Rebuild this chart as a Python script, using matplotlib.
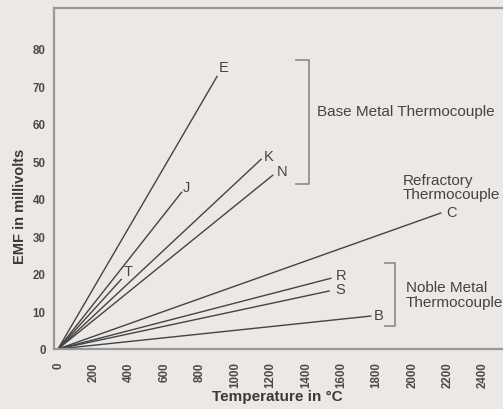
import matplotlib
matplotlib.use("Agg")
import matplotlib.pyplot as plt

# thermocouple types: end temperature (deg C) and EMF (mV), lines start at 0,0
types = ['E', 'J', 'T', 'K', 'N', 'C', 'R', 'S', 'B']
t_max = [900, 700, 360, 1150, 1215, 2165, 1545, 1535, 1770]
emf_max = [72.8, 41.9, 18.7, 50.7, 46.4, 36.3, 18.9, 15.5, 8.8]
# label offsets in pixels from the line end
lab_dx = [1, 1, 2, 2, 4, 5, 4, 6, 2]
lab_dy = [9, 5, 8, 3, 4, 1, 3, 2, 1]

xticks = list(range(0, 2401, 200))
yticks = list(range(0, 81, 10))

bg = '#ebe8e6'
ink = '#444444'
plt.rcParams['font.family'] = ['Liberation Sans', 'DejaVu Sans']

fig = plt.figure(figsize=(5.03, 4.10), dpi=100, facecolor=bg)
ax = fig.add_axes([54 / 503, 60 / 410, 449 / 503, 341 / 410], facecolor=bg)

for name, t, e, dx, dy in zip(types, t_max, emf_max, lab_dx, lab_dy):
    ax.plot([0, t], [0, e], color=ink, lw=1.0, solid_capstyle='butt')
    ax.annotate(name, (t, e), xytext=(dx, dy), textcoords='offset pixels',
                ha='left', va='center', fontsize=10.5, color=ink)

# group brackets
br = '#8a8a8a'
ax.plot([1344, 1417, 1417, 1344], [77.1, 77.1, 44.0, 44.0], color=br, lw=1.2)
ax.plot([1847, 1903, 1903, 1847], [22.9, 22.9, 6.1, 6.1], color=br, lw=1.2)

ax.text(1463, 63.5, 'Base Metal Thermocouple', fontsize=11, color=ink,
        ha='left', va='center')
ax.text(1948, 43.3, 'Refractory\nThermocouple', fontsize=11, color=ink,
        ha='left', va='center', linespacing=1.0)
ax.text(1965, 14.5, 'Noble Metal\nThermocouple', fontsize=11, color=ink,
        ha='left', va='center', linespacing=1.05)

ax.set_xlim(-22.6, 2513)
ax.set_ylim(0, 90.9)
ax.set_xticks(xticks)
ax.set_yticks(yticks)
ax.set_xticklabels([str(v) for v in xticks], rotation=90, fontsize=8.3,
                   fontweight='bold', color='#4a4a4a')
ax.set_yticklabels([str(v) for v in yticks], fontsize=8.3,
                   fontweight='bold', color='#4a4a4a')
ax.tick_params(axis='both', length=0)
ax.tick_params(axis='x', pad=9)
ax.tick_params(axis='y', pad=6)

for side in ['left', 'top', 'bottom']:
    ax.spines[side].set_color('#999999')
    ax.spines[side].set_linewidth(1.6)
ax.spines['right'].set_visible(False)

ax.set_xlabel('Temperature in °C', fontsize=11, fontweight='bold', color='#3a3a3a')
ax.set_ylabel('EMF in millivolts', fontsize=10.5, fontweight='bold', color='#3a3a3a')
ax.xaxis.set_label_coords(0.497, -0.138)
ax.xaxis.label.set_va('center')
ax.yaxis.set_label_coords(-0.076, 0.42)
ax.yaxis.label.set_va('center')

fig.savefig('out.png', dpi=100, facecolor=bg)
